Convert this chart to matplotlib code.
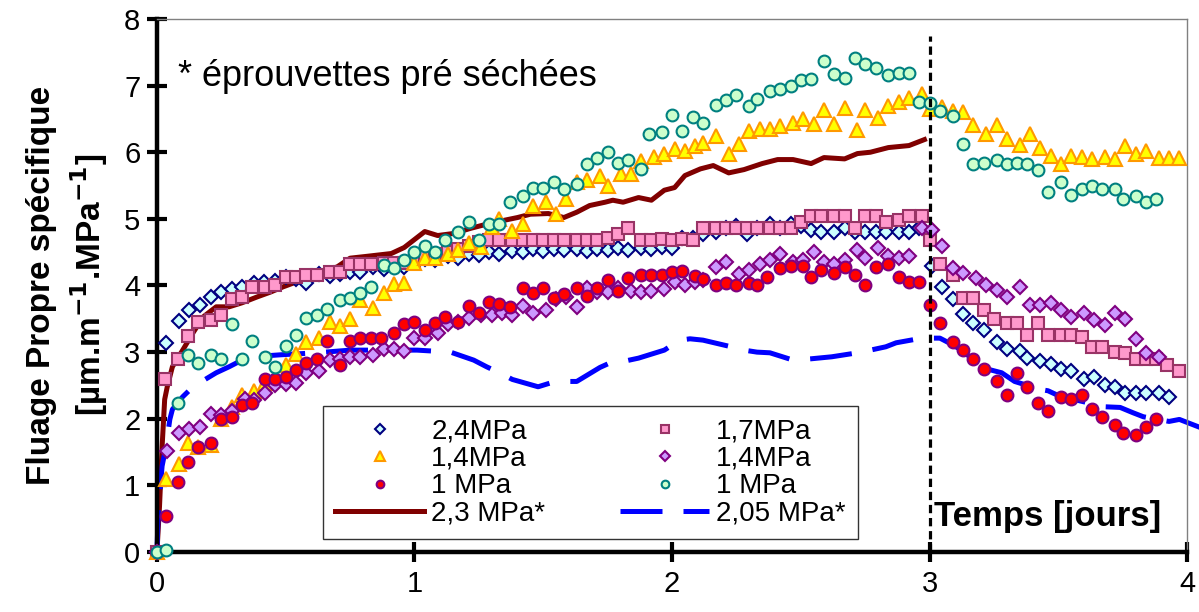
import matplotlib
matplotlib.use("Agg")
import matplotlib.pyplot as plt

plt.rcParams["font.family"] = ["Liberation Sans", "DejaVu Sans"]

# 2,4MPa (open diamonds)
x_24 = [0, 0.035, 0.086, 0.125, 0.167, 0.21, 0.25, 0.29, 0.33, 0.375, 0.416, 0.46, 0.50, 0.54, 0.58, 0.63, 0.67, 0.71, 0.75, 0.79, 0.84, 0.88, 0.92, 0.96,
        1.00, 1.04, 1.08, 1.13, 1.17, 1.21, 1.25, 1.29, 1.33, 1.38, 1.42, 1.46, 1.50, 1.54, 1.58, 1.63, 1.67, 1.71, 1.75, 1.79, 1.83, 1.88, 1.92, 1.96, 2.00,
        2.04, 2.08, 2.12, 2.17, 2.21, 2.25, 2.29, 2.33, 2.38, 2.42, 2.46, 2.50, 2.54, 2.58, 2.63, 2.67, 2.71, 2.75, 2.79, 2.83, 2.88, 2.92, 2.96,
        3.01, 3.05, 3.09, 3.13, 3.17, 3.21, 3.26, 3.30, 3.35, 3.38, 3.43, 3.47, 3.51, 3.55, 3.60, 3.64, 3.68, 3.72, 3.76, 3.80, 3.84, 3.89, 3.93]
y_24 = [0, 3.14, 3.47, 3.63, 3.71, 3.83, 3.90, 3.95, 3.98, 4.03, 4.05, 4.07, 4.13, 4.10, 4.04, 4.18, 4.15, 4.17, 4.20, 4.20, 4.28, 4.25, 4.28, 4.28,
        4.35, 4.40, 4.38, 4.45, 4.42, 4.48, 4.46, 4.50, 4.48, 4.52, 4.50, 4.55, 4.52, 4.55, 4.53, 4.55, 4.52, 4.55, 4.53, 4.57, 4.53, 4.57, 4.55, 4.58, 4.57,
        4.72, 4.72, 4.78, 4.80, 4.86, 4.90, 4.78, 4.86, 4.93, 4.86, 4.93, 4.90, 4.83, 4.80, 4.80, 4.86, 4.80, 4.80, 4.80, 4.80, 4.80, 4.80, 4.86,
        4.29, 3.98, 3.80, 3.57, 3.44, 3.33, 3.15, 3.05, 3.02, 2.91, 2.87, 2.82, 2.75, 2.71, 2.60, 2.63, 2.50, 2.47, 2.38, 2.38, 2.38, 2.38, 2.33]

# 1,7MPa (squares)
x_17 = [0, 0.03, 0.08, 0.12, 0.16, 0.21, 0.25, 0.29, 0.33, 0.37, 0.42, 0.46, 0.50, 0.54, 0.58, 0.62, 0.67, 0.71, 0.75, 0.79, 0.83, 0.88, 0.92, 0.96,
        1.00, 1.04, 1.08, 1.13, 1.17, 1.21, 1.25, 1.29, 1.33, 1.38, 1.42, 1.46, 1.50, 1.54, 1.58, 1.63, 1.67, 1.71, 1.75, 1.79, 1.83, 1.88, 1.92, 1.96,
        2.00, 2.04, 2.08, 2.12, 2.17, 2.21, 2.25, 2.29, 2.33, 2.38, 2.42, 2.46, 2.50, 2.54, 2.58, 2.63, 2.67, 2.71, 2.75, 2.79, 2.83, 2.88, 2.92, 2.97,
        3.00, 3.04, 3.09, 3.13, 3.17, 3.21, 3.25, 3.30, 3.34, 3.38, 3.42, 3.46, 3.51, 3.55, 3.59, 3.63, 3.67, 3.72, 3.76, 3.80, 3.84, 3.88, 3.92, 3.97]
y_17 = [0, 2.60, 2.90, 3.24, 3.45, 3.48, 3.56, 3.80, 3.83, 3.97, 3.98, 4.01, 4.13, 4.13, 4.16, 4.16, 4.21, 4.21, 4.33, 4.33, 4.33, 4.34, 4.34, 4.34,
        4.36, 4.45, 4.48, 4.50, 4.55, 4.60, 4.65, 4.68, 4.68, 4.68, 4.68, 4.68, 4.68, 4.68, 4.68, 4.68, 4.68, 4.68, 4.72, 4.78, 4.86, 4.68, 4.68, 4.70,
        4.68, 4.70, 4.68, 4.86, 4.86, 4.86, 4.86, 4.86, 4.86, 4.86, 4.86, 4.86, 4.95, 5.04, 5.04, 5.04, 5.04, 4.86, 5.04, 5.04, 4.95, 4.98, 5.04, 5.04,
        4.68, 4.33, 4.16, 3.81, 3.81, 3.63, 3.50, 3.44, 3.44, 3.25, 3.44, 3.25, 3.25, 3.25, 3.23, 3.07, 3.07, 3.00, 2.98, 2.90, 2.90, 2.90, 2.81, 2.72]

# 1,4MPa (triangles)
x_14a = [0, 0.035, 0.086, 0.12, 0.16, 0.21, 0.25, 0.29, 0.33, 0.375, 0.42, 0.46, 0.50, 0.54, 0.58, 0.63, 0.67, 0.71, 0.75, 0.79, 0.84, 0.88, 0.92, 0.96,
         1.00, 1.04, 1.08, 1.13, 1.17, 1.21, 1.26, 1.30, 1.33, 1.38, 1.42, 1.46, 1.51, 1.55, 1.59, 1.63, 1.67, 1.72, 1.75, 1.80, 1.84, 1.88, 1.93, 1.97,
         2.01, 2.05, 2.09, 2.12, 2.17, 2.22, 2.26, 2.30, 2.34, 2.38, 2.42, 2.47, 2.51, 2.55, 2.59, 2.63, 2.67, 2.72, 2.75, 2.80, 2.84, 2.88, 2.92, 2.97,
         3.00, 3.05, 3.09, 3.13, 3.17, 3.22, 3.26, 3.30, 3.35, 3.39, 3.43, 3.47, 3.51, 3.55, 3.59, 3.63, 3.68, 3.72, 3.76, 3.80, 3.84, 3.89, 3.93, 3.97]
y_14a = [0, 1.09, 1.32, 1.64, 1.58, 1.61, 2.00, 2.18, 2.35, 2.42, 2.54, 2.60, 2.81, 2.97, 3.15, 3.21, 3.45, 3.39, 3.50, 3.78, 3.66, 3.89, 4.02, 4.04,
         4.34, 4.42, 4.42, 4.48, 4.54, 4.64, 4.58, 4.88, 5.00, 4.82, 4.93, 5.19, 5.25, 5.08, 5.30, 5.55, 5.59, 5.65, 5.50, 5.67, 5.67, 5.87, 5.93, 5.98,
         6.05, 6.02, 6.10, 6.14, 6.25, 5.98, 6.13, 6.32, 6.35, 6.35, 6.40, 6.44, 6.50, 6.43, 6.64, 6.43, 6.67, 6.34, 6.64, 6.52, 6.70, 6.76, 6.82, 6.88,
         6.65, 6.68, 6.62, 6.61, 6.41, 6.28, 6.41, 6.20, 6.11, 6.28, 6.07, 5.95, 5.83, 5.95, 5.93, 5.90, 5.93, 5.90, 6.10, 5.98, 6.02, 5.92, 5.92, 5.92]

# 1,4MPa (purple diamonds)
x_14b = [0, 0.04, 0.086, 0.125, 0.167, 0.21, 0.25, 0.29, 0.34, 0.375, 0.42, 0.46, 0.50, 0.54, 0.58, 0.63, 0.67, 0.71, 0.75, 0.79, 0.84, 0.88, 0.92, 0.96,
         1.00, 1.04, 1.09, 1.13, 1.17, 1.21, 1.26, 1.30, 1.34, 1.38, 1.42, 1.46, 1.51, 1.55, 1.59, 1.63, 1.67, 1.71, 1.75, 1.79, 1.84, 1.88, 1.92, 1.97,
         2.01, 2.05, 2.09, 2.12, 2.17, 2.21, 2.26, 2.30, 2.34, 2.38, 2.42, 2.47, 2.51, 2.55, 2.59, 2.63, 2.67, 2.72, 2.75, 2.80, 2.84, 2.88, 2.92, 2.97,
         3.01, 3.05, 3.09, 3.13, 3.18, 3.22, 3.26, 3.30, 3.35, 3.39, 3.43, 3.47, 3.51, 3.55, 3.60, 3.64, 3.68, 3.72, 3.76, 3.80, 3.84, 3.89]
y_14b = [0, 1.52, 1.79, 1.85, 1.88, 2.07, 2.05, 2.12, 2.30, 2.28, 2.38, 2.51, 2.52, 2.54, 2.69, 2.71, 2.88, 2.90, 2.93, 2.93, 2.96, 3.05, 3.05, 3.01,
         3.21, 3.21, 3.29, 3.42, 3.45, 3.51, 3.56, 3.56, 3.58, 3.56, 3.69, 3.59, 3.63, 3.80, 3.83, 3.68, 3.96, 3.90, 3.90, 3.96, 3.92, 3.90, 3.92, 3.95,
         4.05, 4.01, 4.05, 4.08, 4.28, 4.35, 4.18, 4.24, 4.32, 4.38, 4.47, 4.35, 4.38, 4.51, 4.36, 4.33, 4.38, 4.54, 4.41, 4.57, 4.45, 4.41, 4.45, 4.86,
         4.83, 4.60, 4.27, 4.19, 4.11, 4.01, 3.93, 3.83, 3.98, 3.71, 3.71, 3.74, 3.63, 3.53, 3.59, 3.48, 3.41, 3.59, 3.50, 3.20, 2.99, 2.93]

# 1 MPa (red dots)
x_1a = [0, 0.035, 0.08, 0.12, 0.16, 0.21, 0.25, 0.29, 0.33, 0.37, 0.42, 0.46, 0.50, 0.54, 0.58, 0.62, 0.66, 0.71, 0.75, 0.79, 0.83, 0.87, 0.92, 0.96,
        1.00, 1.04, 1.08, 1.12, 1.17, 1.21, 1.25, 1.29, 1.33, 1.37, 1.42, 1.46, 1.50, 1.54, 1.58, 1.63, 1.67, 1.71, 1.75, 1.79, 1.83, 1.88, 1.92, 1.96,
        2.00, 2.04, 2.09, 2.12, 2.17, 2.21, 2.25, 2.30, 2.33, 2.37, 2.42, 2.46, 2.51, 2.54, 2.58, 2.63, 2.67, 2.71, 2.75, 2.79, 2.84, 2.88, 2.92, 2.96,
        3.00, 3.04, 3.09, 3.13, 3.17, 3.21, 3.26, 3.30, 3.34, 3.38, 3.42, 3.46, 3.51, 3.55, 3.59, 3.63, 3.67, 3.72, 3.75, 3.80, 3.84, 3.88]
y_1a = [0, 0.54, 1.05, 1.35, 1.57, 1.64, 1.99, 2.03, 2.21, 2.24, 2.60, 2.60, 2.63, 2.73, 2.84, 2.90, 3.16, 2.81, 3.17, 3.21, 3.21, 3.21, 3.29, 3.42,
        3.45, 3.33, 3.44, 3.53, 3.45, 3.69, 3.59, 3.75, 3.72, 3.68, 3.96, 3.89, 3.96, 3.81, 3.87, 3.96, 3.84, 3.96, 4.08, 3.92, 4.11, 4.16, 4.16, 4.16,
        4.20, 4.22, 4.14, 4.10, 4.01, 4.04, 4.01, 4.04, 4.01, 4.13, 4.26, 4.30, 4.30, 4.13, 4.23, 4.19, 4.28, 4.16, 4.01, 4.28, 4.33, 4.13, 4.05, 4.05,
        3.71, 3.44, 3.15, 3.03, 2.90, 2.75, 2.57, 2.36, 2.69, 2.47, 2.24, 2.12, 2.33, 2.29, 2.36, 2.14, 2.03, 1.90, 1.78, 1.75, 1.88, 1.99]

# 1 MPa (green dots, pre-dried)
x_1b = [0, 0.035, 0.08, 0.12, 0.16, 0.21, 0.25, 0.29, 0.33, 0.37, 0.42, 0.46, 0.50, 0.54, 0.58, 0.62, 0.66, 0.71, 0.75, 0.79, 0.83, 0.88, 0.92, 0.96,
        1.00, 1.04, 1.08, 1.12, 1.17, 1.21, 1.25, 1.29, 1.33, 1.37, 1.42, 1.46, 1.50, 1.54, 1.58, 1.63, 1.67, 1.71, 1.75, 1.79, 1.83, 1.88, 1.91, 1.96,
        2.00, 2.04, 2.08, 2.12, 2.17, 2.21, 2.25, 2.30, 2.33, 2.38, 2.42, 2.46, 2.50, 2.54, 2.59, 2.63, 2.67, 2.71, 2.75, 2.79, 2.84, 2.88, 2.92,
        2.96, 3.00, 3.04, 3.09, 3.13, 3.17, 3.21, 3.26, 3.30, 3.34, 3.38, 3.42, 3.46, 3.51, 3.55, 3.59, 3.63, 3.67, 3.72, 3.75, 3.80, 3.84, 3.88]
y_1b = [0, 0.03, 2.24, 2.96, 2.84, 2.96, 2.90, 3.42, 2.90, 3.17, 2.93, 2.78, 3.09, 3.26, 3.51, 3.56, 3.65, 3.78, 3.81, 3.89, 3.98, 4.31, 4.26, 4.39,
        4.50, 4.60, 4.51, 4.69, 4.81, 4.95, 4.69, 4.92, 4.93, 5.25, 5.34, 5.46, 5.47, 5.56, 5.45, 5.52, 5.83, 5.92, 6.01, 5.84, 5.89, 5.75, 6.28, 6.30,
        6.56, 6.32, 6.53, 6.44, 6.71, 6.78, 6.86, 6.70, 6.80, 6.92, 6.95, 7.00, 7.08, 7.10, 7.37, 7.17, 7.12, 7.41, 7.32, 7.27, 7.16, 7.19, 7.19,
        6.76, 6.74, 6.62, 6.55, 6.13, 5.83, 5.84, 5.89, 5.83, 5.84, 5.83, 5.74, 5.41, 5.56, 5.36, 5.45, 5.50, 5.45, 5.45, 5.30, 5.34, 5.25, 5.30]

# 2,3 MPa* (solid line)
x_23 = [0, 0.01, 0.02, 0.03, 0.04, 0.06, 0.10, 0.14, 0.18, 0.23, 0.28, 0.33, 0.39, 0.44, 0.49, 0.56, 0.62, 0.70, 0.75, 0.82, 0.91, 0.96, 1.00,
        1.04, 1.09, 1.15, 1.22, 1.28, 1.35, 1.40, 1.45, 1.52, 1.58, 1.63, 1.68, 1.74, 1.77, 1.81, 1.87, 1.92, 1.97, 2.01, 2.05, 2.11, 2.16,
        2.22, 2.28, 2.35, 2.41, 2.47, 2.54, 2.59, 2.67, 2.72, 2.77, 2.84, 2.92, 2.98]
y_23 = [0, 0.69, 1.58, 2.29, 2.48, 2.78, 3.03, 3.29, 3.53, 3.68, 3.68, 3.74, 3.83, 3.90, 3.98, 4.08, 4.17, 4.28, 4.41, 4.44, 4.48, 4.57, 4.69,
        4.81, 4.75, 4.78, 4.86, 4.92, 4.98, 5.02, 5.07, 5.08, 5.02, 5.10, 5.20, 5.25, 5.28, 5.25, 5.32, 5.28, 5.43, 5.47, 5.65, 5.75, 5.80,
        5.69, 5.74, 5.83, 5.89, 5.89, 5.83, 5.92, 5.90, 5.98, 6.00, 6.07, 6.10, 6.19]

# 2,05 MPa* (dashed line)
x_205 = [0, 0.005, 0.02, 0.035, 0.05, 0.06, 0.10, 0.14, 0.23, 0.28, 0.32, 0.37, 0.48, 0.62, 0.75, 1.01, 1.14, 1.23, 1.28, 1.33, 1.38,
         1.48, 1.53, 1.58, 1.63, 1.72, 1.76, 1.81, 1.87, 1.97, 2.03, 2.07, 2.12, 2.23, 2.28, 2.33, 2.38, 2.47, 2.54, 2.62, 2.72, 2.77,
         2.83, 2.87, 2.97, 3.04, 3.09, 3.14, 3.19, 3.23, 3.28, 3.33, 3.43, 3.46, 3.51, 3.56, 3.68, 3.74, 3.79, 3.83, 3.93, 3.97, 4.05]
y_205 = [0, 0.6, 1.29, 1.58, 1.99, 2.14, 2.33, 2.48, 2.69, 2.78, 2.86, 2.93, 2.96, 2.99, 3.03, 3.03, 3.00, 2.88, 2.78, 2.69, 2.59,
         2.48, 2.54, 2.56, 2.56, 2.77, 2.84, 2.86, 2.91, 3.03, 3.18, 3.20, 3.18, 3.08, 3.03, 3.00, 2.99, 2.88, 2.90, 2.93, 2.99, 3.03,
         3.08, 3.14, 3.21, 3.21, 3.11, 2.99, 2.78, 2.74, 2.69, 2.56, 2.44, 2.42, 2.33, 2.29, 2.18, 2.17, 2.09, 2.03, 1.96, 1.99, 1.87]

fig = plt.figure(figsize=(11.99, 6.12), dpi=100)
ax = fig.add_axes([0.1309, 0.098, 0.8592, 0.871])

# lines first, markers on top
l23, = ax.plot(x_23, y_23, color="#800000", lw=3.6, label="2,3 MPa*", zorder=2)
l205, = ax.plot(x_205, y_205, color="#0000FF", lw=3.6, ls=(0, (8.4, 4.2)),
                label="2,05 MPa*", zorder=2, clip_on=False)

mk = dict(ls="none", mew=1.5, clip_on=False, zorder=3)
h24, = ax.plot(x_24, y_24, marker="D", ms=7.5, mfc="#CCFFFF", mec="#000080", label="2,4MPa", **mk)
h17, = ax.plot(x_17, y_17, marker="s", ms=8.5, mfc="#FF99CC", mec="#993366", label="1,7MPa", **mk)
h14a, = ax.plot(x_14a, y_14a, marker="^", ms=10, mfc="#FFFF00", mec="#FF9900", label="1,4MPa", **mk)
h14b, = ax.plot(x_14b, y_14b, marker="D", ms=7.5, mfc="#CC99FF", mec="#800080", label="1,4MPa", **mk)
h1a, = ax.plot(x_1a, y_1a, marker="o", ms=8.5, mfc="#FF0000", mec="#800080", label="1 MPa", **mk)
h1b, = ax.plot(x_1b, y_1b, marker="o", ms=8.5, mfc="#CCFFCC", mec="#008080", label="1 MPa", **mk)

# end of loading at 3 days
ax.plot([3, 3], [0, 7.75], color="black", lw=2.3, ls=(0, (2.6, 1.5)), zorder=4)

ax.set_xlim(0, 4)
ax.set_ylim(0, 8)
ax.set_xticks([0, 1, 2, 3, 4])
ax.set_yticks(range(9))

for s in ("left", "bottom"):
    ax.spines[s].set_linewidth(3.2)
    ax.spines[s].set_color("black")
for s in ("top", "right"):
    ax.spines[s].set_linewidth(1)
    ax.spines[s].set_color("#808080")
ax.tick_params(direction="inout", length=14, width=3, labelsize=21, color="black")
ax.tick_params(axis="y", pad=5)
ax.tick_params(axis="x", pad=6)

ax.text(0.02, 0.893, "* éprouvettes pré séchées", transform=ax.transAxes,
        fontsize=26, va="center", ha="left")
ax.text(0.754, 0.067, "Temps [jours]", transform=ax.transAxes,
        fontsize=25, fontweight="bold", va="center", ha="left")

fig.text(0.057, 0.534, "Fluage Propre spécifique\n[µm.m$^{\\mathbf{-1}}$.MPa$^{\\mathbf{-1}}$]",
         rotation=90, ha="center", va="center", fontsize=24, fontweight="bold",
         multialignment="center", linespacing=1.35)

leg = ax.legend([h24, h14a, h1a, l23, h17, h14b, h1b, l205],
                ["2,4MPa", "1,4MPa", "1 MPa", "2,3 MPa*", "1,7MPa", "1,4MPa", "1 MPa", "2,05 MPa*"],
                ncol=2, loc="lower left", bbox_to_anchor=(0.161, 0.024),
                fontsize=20, frameon=True, fancybox=False, edgecolor="black",
                handlelength=3.2, handletextpad=0.25, columnspacing=2.7,
                labelspacing=0.05, borderpad=0.45, markerscale=0.65, numpoints=1,
                borderaxespad=0)
leg.get_frame().set_linewidth(1)
leg.set_zorder(5)

fig.savefig("out.png", dpi=100)
